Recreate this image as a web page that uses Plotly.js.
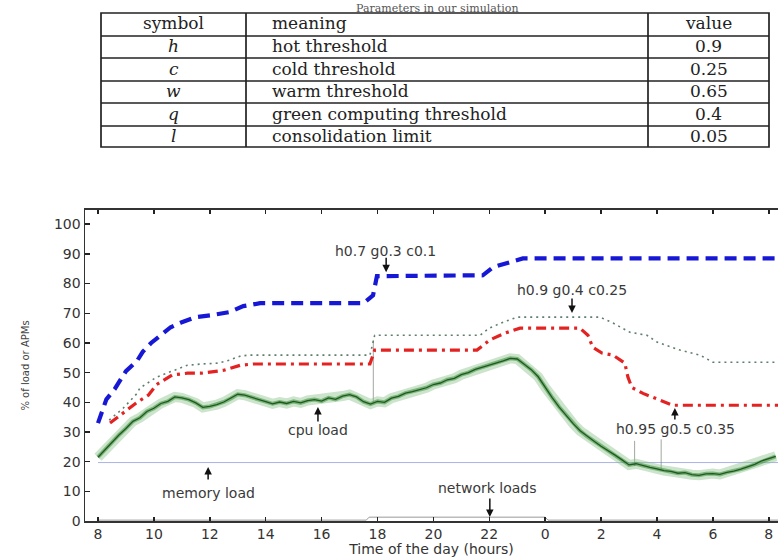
<!DOCTYPE html>
<html>
<head>
<meta charset="utf-8">
<script src="https://cdn.plot.ly/plotly-3.0.1.min.js"></script>
<style>html,body{margin:0;padding:0;background:#fff;}#chart{width:778px;height:557px;}</style>
</head>
<body>
<div id="chart"></div>
<script>
// ---- table data ----
const tableTitle = "Parameters in our simulation";
const tableHeader = ["symbol", "meaning", "value"];
const paramSymbols = ["h", "c", "w", "q", "l"];
const paramMeanings = ["hot threshold", "cold threshold", "warm threshold", "green computing threshold", "consolidation limit"];
const paramValues = ["0.9", "0.25", "0.65", "0.4", "0.05"];

// ---- x tick labels (hours, next day wraps) ----
const hourTickVals = [8, 10, 12, 14, 16, 18, 20, 22, 24, 26, 28, 30, 32];
const hourTickText = ["8", "10", "12", "14", "16", "18", "20", "22", "0", "2", "4", "6", "8"];
const yTickVals = [0, 10, 20, 30, 40, 50, 60, 70, 80, 90, 100];

// ---- APMs h0.7 g0.3 c0.1 (blue dashed) ----
const blueX = [8.0, 8.15, 8.3, 8.6, 9.0, 9.4, 9.6, 9.9, 10.3, 10.6, 11.0, 11.5, 12.1, 12.7, 13.2, 13.8, 17.5, 17.84, 17.98, 21.77, 22.13, 22.85, 23.2, 32.4];
const blueY = [33, 37, 41, 44.5, 50.5, 54, 57, 60, 63, 65.3, 67, 68.7, 69.4, 70.4, 72.4, 73.4, 73.4, 76, 82.5, 82.8, 85.5, 87.5, 88.5, 88.5];

// ---- APMs h0.9 g0.4 c0.25 (gray dotted) ----
const dotX = [8.4, 8.9, 9.4, 9.5, 10.1, 10.7, 11.2, 11.7, 12.3, 12.7, 13.1, 13.4, 17.73, 17.9, 21.67, 22.0, 22.5, 23.0, 25.96, 26.43, 27.03, 27.64, 28.0, 28.82, 29.54, 30.0, 32.4];
const dotY = [34, 38, 43, 44.8, 48.5, 50.8, 52.5, 52.9, 53.2, 54.2, 55.6, 55.9, 55.9, 62.6, 62.6, 65, 67, 68.7, 68.7, 66.7, 63.6, 62.6, 60.3, 57.6, 55.9, 53.5, 53.5];

// ---- APMs h0.95 g0.5 c0.35 (red dash-dot) ----
const redX = [8.43, 8.9, 9.4, 9.8, 10.1, 10.65, 11.2, 11.7, 12.1, 12.5, 13.1, 13.55, 17.73, 17.9, 21.56, 22.02, 22.56, 23.1, 25.24, 25.53, 25.7, 26.03, 26.43, 26.85, 26.96, 27.1, 27.5, 28.1, 28.57, 32.4];
const redY = [33, 36.4, 40, 42.4, 46, 49.2, 49.8, 49.8, 50.2, 50.8, 52.5, 52.9, 52.9, 57.6, 57.6, 61, 63.3, 65, 65, 62.6, 58.6, 56.6, 55.9, 53.2, 48.5, 45, 43, 40.7, 39, 39];

// ---- cpu load (green) ----
const cpuX = [8.00, 8.25, 8.50, 8.75, 9.00, 9.25, 9.50, 9.75, 10.00, 10.25, 10.50, 10.75, 11.00, 11.25, 11.50, 11.75, 12.00, 12.25, 12.50, 12.75, 13.00, 13.25, 13.50, 13.75, 14.00, 14.25, 14.50, 14.75, 15.00, 15.25, 15.50, 15.75, 16.00, 16.25, 16.50, 16.75, 17.00, 17.25, 17.50, 17.75, 18.00, 18.25, 18.50, 18.75, 19.00, 19.25, 19.50, 19.75, 20.00, 20.25, 20.50, 20.75, 21.00, 21.25, 21.50, 21.75, 22.00, 22.25, 22.50, 22.75, 23.00, 23.25, 23.50, 23.75, 24.00, 24.25, 24.50, 24.75, 25.00, 25.25, 25.50, 25.75, 26.00, 26.25, 26.50, 26.75, 27.00, 27.25, 27.50, 27.75, 28.00, 28.25, 28.50, 28.75, 29.00, 29.25, 29.50, 29.75, 30.00, 30.25, 30.50, 30.75, 31.00, 31.25, 31.50, 31.75, 32.00, 32.25];
const cpuY = [21.5, 24.0, 26.8, 29.0, 31.2, 33.6, 34.8, 36.9, 38.0, 39.6, 40.3, 41.8, 41.5, 40.9, 39.8, 38.3, 38.6, 39.2, 40.1, 41.3, 42.7, 42.4, 41.6, 41.0, 40.2, 39.5, 40.1, 39.6, 40.3, 39.8, 40.6, 40.9, 40.4, 41.5, 41.0, 42.1, 42.6, 41.8, 40.2, 39.4, 40.3, 40.0, 41.4, 42.0, 43.1, 43.6, 44.2, 44.9, 46.0, 46.5, 47.6, 48.1, 49.3, 50.0, 51.1, 51.8, 52.6, 53.1, 54.0, 54.8, 54.6, 52.8, 51.0, 48.6, 45.0, 41.6, 38.4, 35.6, 32.8, 30.4, 28.5, 26.9, 25.2, 23.8, 22.2, 20.6, 18.9, 19.3, 18.6, 18.1, 17.6, 17.0, 16.7, 16.1, 16.3, 15.6, 15.4, 15.9, 16.0, 15.7, 16.4, 16.8, 17.5, 18.2, 19.1, 20.3, 21.0, 21.8];
// isolated spikes of the cpu trace (null separates them)
const spikeX = [17.85, 17.85, null, 27.2, 27.2, null, 28.15, 28.15];
const spikeY = [40, 61, null, 18.5, 27, null, 17, 27.5];

// ---- memory and network load ----
const memX = [8.0, 32.4];
const memY = [19.7, 19.7];
const netX = [8.0, 17.6, 17.7, 24.0, 24.1, 32.4];
const netY = [0.3, 0.3, 1.3, 1.3, 0.3, 0.3];

// ---- labels with arrows ----
const labelTexts = ["h0.7 g0.3 c0.1", "h0.9 g0.4 c0.25", "cpu load", "memory load", "network loads", "h0.95 g0.5 c0.35"];
const labelX = [18.27, 24.96, 15.87, 11.94, 21.95, 28.68];
const labelY = [91.0, 77.8, 30.7, 9.4, 11.1, 31.0];
const arrowTipX = [18.31, 24.96, 15.87, 11.94, 22.02, 28.64];
const arrowTipY = [83.8, 70.1, 38.4, 18.2, 1.35, 38.1];
const arrowTailOffset = [-16, -16, 16, 14, -20, 13]; // px, tail relative to tip

const traces = [];
traces.push({type: 'scatter', mode: 'lines', x: memX, y: memY, line: {color: '#aab2e6', width: 1}, hoverinfo: 'skip', showlegend: false});
traces.push({type: 'scatter', mode: 'lines', x: netX, y: netY, line: {color: '#9a9a9a', width: 1}, hoverinfo: 'skip', showlegend: false});
traces.push({type: 'scatter', mode: 'lines', x: spikeX, y: spikeY, line: {color: 'rgba(120,130,120,0.7)', width: 1}, hoverinfo: 'skip', showlegend: false});
traces.push({type: 'scatter', mode: 'lines', x: cpuX, y: cpuY, line: {color: 'rgba(140,195,140,0.45)', width: 10}, hoverinfo: 'skip', showlegend: false});
traces.push({type: 'scatter', mode: 'lines', x: cpuX, y: cpuY, line: {color: 'rgba(60,140,60,0.55)', width: 4}, hoverinfo: 'skip', showlegend: false});
traces.push({type: 'scatter', mode: 'lines', x: cpuX, y: cpuY, line: {color: '#1e5a1e', width: 1.3}, hoverinfo: 'skip', showlegend: false});
traces.push({type: 'scatter', mode: 'lines', x: dotX, y: dotY, line: {color: '#5f7f6c', width: 1.6, dash: '2px,4px'}, hoverinfo: 'skip', showlegend: false});
traces.push({type: 'scatter', mode: 'lines', x: redX, y: redY, line: {color: '#e32222', width: 3.2, dash: '10px,5px,3px,5px'}, hoverinfo: 'skip', showlegend: false});
traces.push({type: 'scatter', mode: 'lines', x: blueX, y: blueY, line: {color: '#1717d6', width: 4.2, dash: '12px,7px'}, hoverinfo: 'skip', showlegend: false});

// ---- table drawn with paper-referenced shapes + text ----
const W = 778, H = 557, ML = 85;
const px2x = p => (p - ML) / (W - ML);
const px2y = p => (H - p) / H;
const tblLeft = 101, tblRight = 769, tblTop = 13, tblBottom = 147;
const colDividers = [246, 648];
const rowLines = [36, 58, 81, 103, 126];
const tblLine = {color: '#222', width: 1.7};
const shapes = [];
shapes.push({type: 'rect', xref: 'paper', yref: 'paper', x0: px2x(tblLeft), x1: px2x(tblRight), y0: px2y(tblBottom), y1: px2y(tblTop), line: tblLine, fillcolor: 'rgba(0,0,0,0)'});
colDividers.forEach(c => shapes.push({type: 'line', xref: 'paper', yref: 'paper', x0: px2x(c), x1: px2x(c), y0: px2y(tblBottom), y1: px2y(tblTop), line: tblLine}));
rowLines.forEach(r => shapes.push({type: 'line', xref: 'paper', yref: 'paper', x0: px2x(tblLeft), x1: px2x(tblRight), y0: px2y(r), y1: px2y(r), line: tblLine}));

const rowEdges = [tblTop].concat(rowLines, [tblBottom]);
const rowCenter = i => (rowEdges[i] + rowEdges[i + 1]) / 2;
const colSymbolCenter = (tblLeft + colDividers[0]) / 2;
const colMeaningLeft = colDividers[0] + 24;
const colValueCenter = (colDividers[1] + tblRight) / 2;
const tfont = {family: 'DejaVu Serif', size: 17, color: '#222'};

const annotations = [];
function tcell(text, xpx, ypx, anchor) {
  annotations.push({xref: 'paper', yref: 'paper', x: px2x(xpx), y: px2y(ypx), text: text, showarrow: false,
    xanchor: anchor, yanchor: 'middle', font: tfont});
}
tcell(tableHeader[0], colSymbolCenter, rowCenter(0) - 1, 'center');
tcell(tableHeader[1], colMeaningLeft, rowCenter(0) - 1, 'left');
tcell(tableHeader[2], colValueCenter, rowCenter(0) - 1, 'center');
for (let i = 0; i < paramSymbols.length; i++) {
  tcell('<i>' + paramSymbols[i] + '</i>', colSymbolCenter, rowCenter(i + 1) - 1, 'center');
  tcell(paramMeanings[i], colMeaningLeft, rowCenter(i + 1) - 1, 'left');
  tcell(paramValues[i], colValueCenter, rowCenter(i + 1) - 1, 'center');
}
annotations.push({xref: 'paper', yref: 'paper', x: px2x(437), y: 1.0, text: tableTitle, showarrow: false,
  font: {family: 'DejaVu Serif', size: 11, color: '#555'}, xanchor: 'center', yanchor: 'top'});

for (let i = 0; i < labelTexts.length; i++) {
  annotations.push({x: labelX[i], y: labelY[i], xref: 'x', yref: 'y', text: labelTexts[i], showarrow: false,
    font: {family: 'DejaVu Sans', size: 14, color: '#3a3a3a'}, xanchor: 'center', yanchor: 'middle'});
  annotations.push({x: arrowTipX[i], y: arrowTipY[i], xref: 'x', yref: 'y', text: '', showarrow: true,
    ax: 0, ay: arrowTailOffset[i], arrowhead: 2, arrowsize: 1, arrowwidth: 1.5, arrowcolor: '#111', standoff: 0});
}

const layout = {
  width: W, height: H,
  margin: {l: ML, r: 0, t: 0, b: 0},
  paper_bgcolor: '#fff', plot_bgcolor: '#fff',
  showlegend: false,
  xaxis: {
    domain: [0, 1], range: [7.535, 32.33],
    tickvals: hourTickVals, ticktext: hourTickText,
    ticks: 'inside', ticklen: 4, tickwidth: 1.5, tickcolor: '#222',
    showline: true, linecolor: '#333', linewidth: 1.5, mirror: 'ticks',
    showgrid: false, zeroline: false,
    tickfont: {family: 'DejaVu Sans', size: 14, color: '#333'},
    title: {text: 'Time of the day (hours)', font: {family: 'DejaVu Sans', size: 14, color: '#333'}, standoff: 2},
    automargin: false
  },
  yaxis: {
    domain: [0.0646, 0.623], range: [0, 104.8],
    tickvals: yTickVals,
    ticks: 'inside', ticklen: 5, tickwidth: 1.5, tickcolor: '#222',
    showline: true, linecolor: '#333', linewidth: 1.5, mirror: false,
    showgrid: false, zeroline: false,
    tickfont: {family: 'DejaVu Sans', size: 14, color: '#333'},
    title: {text: '% of load or APMs', font: {family: 'DejaVu Sans', size: 10, color: '#444'}, standoff: 22},
    automargin: false
  },
  shapes: shapes,
  annotations: annotations
};

Plotly.newPlot('chart', traces, layout, {staticPlot: true, displayModeBar: false});
</script>
</body>
</html>
